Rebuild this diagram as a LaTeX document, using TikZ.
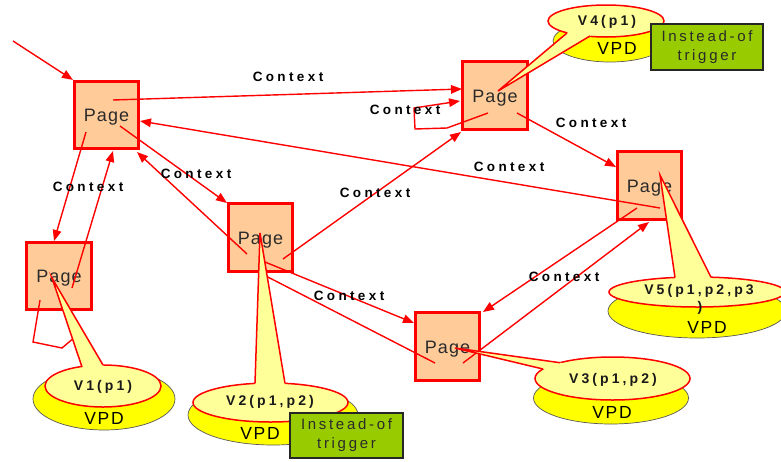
\documentclass[tikz,border=0pt]{standalone}
\usepackage{fontspec}
\setmainfont{Liberation Sans}
\newfontfamily\pagefam[LetterSpace=6]{Liberation Sans}
\newfontfamily\ctxfam[LetterSpace=25]{Liberation Sans}
\newfontfamily\viewfam[LetterSpace=22]{Liberation Sans}
\newfontfamily\vpdfam[LetterSpace=10]{Liberation Sans}
\newfontfamily\trigfam[LetterSpace=18]{Liberation Sans}
\usetikzlibrary{arrows.meta,calc,shapes.geometric}
\definecolor{pagefill}{HTML}{FFCC99}
\definecolor{bubblefill}{HTML}{FFFF99}
\definecolor{diskfill}{HTML}{FFFF00}
\definecolor{trigfill}{HTML}{99CC00}
\definecolor{linkred}{HTML}{FF0000}
\definecolor{inkgray}{HTML}{2A2A2A}
\tikzset{
  pagebox/.style={draw=linkred, line width=2.6pt, fill=pagefill, minimum width=64.5pt,
    minimum height=67.5pt, inner sep=0pt, text=inkgray, text height=15pt, text depth=2pt,
    font=\pagefam\fontsize{18}{20}\selectfont},
  ctx/.style={draw=linkred, line width=1.4pt, -{Triangle[length=11pt,width=8.5pt]}},
  ctxplain/.style={draw=linkred, line width=1.4pt},
  ctxlabel/.style={inner sep=0pt, text=black, font=\ctxfam\bfseries\fontsize{13.5}{15}\selectfont},
  disk/.style={ellipse, fill=diskfill, draw=black!65, line width=0.7pt, inner sep=0pt},
  bubble/.style={ellipse, fill=bubblefill, draw=linkred, line width=1.5pt, inner sep=0pt},
  viewtext/.style={inner sep=0pt, text=black!90, font=\viewfam\bfseries\fontsize{14}{16}\selectfont},
  bubbleside/.style={draw=linkred, line width=1.5pt, line join=miter},
  vpdtext/.style={inner sep=0pt, text=black, font=\vpdfam\fontsize{17.5}{20}\selectfont},
  trigbox/.style={draw=black!85, line width=1.3pt, fill=trigfill, inner sep=0pt,
    minimum width=112pt, minimum height=46pt, align=center, text=inkgray,
    font=\trigfam\fontsize{15}{19}\selectfont}
}
\begin{document}
\begin{tikzpicture}[x=1pt,y=-1pt]
\useasboundingbox (0,0) rectangle (781,461);
\fill[white] (0,0) rectangle (781,461);

% pages
\node[pagebox] (p1) at (106.5,115) {Page};
\node[pagebox] (p4) at (495,95.5) {Page};
\node[pagebox] (p5) at (649.5,185.5) {Page};
\node[pagebox] (p2) at (260.5,237.5) {Page};
\node[pagebox] (p0) at (59,276) {Page};
\node[pagebox] (p3) at (447.5,346.5) {Page};

% link end points
\coordinate (entry) at (13,41);
\coordinate (p1a) at (113,100);
\coordinate (p1b) at (86,132);
\coordinate (p1c) at (120,126);
\coordinate (p1in) at (140,121);
\coordinate (p1bot) at (113,151);
\coordinate (p1se) at (137,152);
\coordinate (p4a) at (488,113);
\coordinate (p4b) at (517,113);
\coordinate (p4in) at (462,89);
\coordinate (p4loop) at (460,101);
\coordinate (p4sw) at (461,132);
\coordinate (p5a) at (660,208);
\coordinate (p5b) at (637,208);
\coordinate (p5in) at (616,167);
\coordinate (p5bot) at (649,222);
\coordinate (p2a) at (247,254);
\coordinate (p2b) at (283,259);
\coordinate (p2c) at (265,262);
\coordinate (p2bot) at (262,274);
\coordinate (p2nw) at (227,203);
\coordinate (p0a) at (72,288);
\coordinate (p0b) at (40,300);
\coordinate (p0top) at (54,241);
\coordinate (p0loop) at (75,337);
\coordinate (p3a) at (435,363);
\coordinate (p3b) at (463,363);
\coordinate (p3in) at (414,323);
\coordinate (p3ne) at (483,312);

% links
\draw[ctx] (entry) -- (p1.north west);
\draw[ctx] (p1a) -- (p4in);
\draw[ctx] (p4a) -- (447,128) -- (415,129) -- (414,108) -- (p4loop);
\draw[ctx] (p4b) -- (p5in);
\draw[ctx] (p5a) -- (p1in);
\draw[ctx] (p1b) -- (p0top);
\draw[ctx] (p0a) -- (p1bot);
\draw[ctxplain] (p0b) -- (33,342) -- (62,348) -- (p0loop);
\draw[ctx] (p1c) -- (p2nw);
\draw[ctx] (p2a) -- (p1se);
\draw[ctx] (p2b) -- (p4sw);
\draw[ctx] (p2c) -- (p3in);
\draw[ctxplain] (p3a) -- (p2bot);
\draw[ctx] (p3b) -- (p5bot);
\draw[ctx] (p5b) -- (p3ne);

% link labels
\node[ctxlabel] (l1) at (288,77) {Context};
\node[ctxlabel] (l2) at (405,110) {Context};
\node[ctxlabel] (l3) at (591,123) {Context};
\node[ctxlabel] (l4) at (509,167) {Context};
\node[ctxlabel] (l5) at (88,187) {Context};
\node[ctxlabel] (l6) at (196,174) {Context};
\node[ctxlabel] (l7) at (375,193) {Context};
\node[ctxlabel] (l8) at (349,296) {Context};
\node[ctxlabel] (l9) at (564,277) {Context};

% view V4
\node[disk, minimum width=114pt, minimum height=42pt] (d4) at (610,41) {};
\node[bubble, minimum width=116pt, minimum height=32pt] (v4) at (606,21) {};
\coordinate (t4) at (498,91);
\coordinate (a4) at (567,33);
\coordinate (b4) at (590,36);
\fill[bubblefill] (t4) -- ($(t4)!1.12!(a4)$) -- ($(t4)!1.12!(b4)$) -- cycle;
\draw[bubbleside] (a4) -- (t4) -- (b4);
\node[viewtext] (v4t) at (607,22) {V4(p1)};
\node[vpdtext] (vpd4) at (617,48) {VPD};
\node[trigbox] (g4) at (707,47) {Instead-of\\trigger};

% view V5
\node[disk, minimum width=178pt, minimum height=54pt] (d5) at (697,311) {};
\node[bubble, minimum width=176pt, minimum height=30pt] (v5) at (697,292) {};
\coordinate (t5) at (660,175);
\coordinate (a5) at (675,277.5);
\coordinate (b5) at (711,277.3);
\fill[bubblefill] (t5) -- ($(t5)!1.12!(a5)$) -- ($(t5)!1.12!(b5)$) -- cycle;
\draw[bubbleside] (a5) -- (t5) -- (b5);
\node[viewtext] (v5t) at (699,291) {V5(p1,p2,p3};
\node[viewtext] (v5u) at (700,308) {)};
\node[vpdtext] (vpd5) at (707,327) {VPD};

% view V3
\node[disk, minimum width=155pt, minimum height=52pt] (d3) at (611,398) {};
\node[bubble, minimum width=155pt, minimum height=43pt] (v3) at (612.5,378.5) {};
\coordinate (t3) at (455,348);
\coordinate (a3) at (543,369);
\coordinate (b3) at (560,362.7);
\fill[bubblefill] (t3) -- ($(t3)!1.12!(a3)$) -- ($(t3)!1.12!(b3)$) -- cycle;
\draw[bubbleside] (a3) -- (t3) -- (b3);
\node[viewtext] (v3t) at (613,380) {V3(p1,p2)};
\node[vpdtext] (vpd3) at (612,412) {VPD};

% view V2
\node[disk, minimum width=170pt, minimum height=60pt] (d2) at (273,415) {};
\node[bubble, minimum width=155pt, minimum height=39pt] (v2) at (270.5,402.5) {};
\coordinate (t2) at (260,233);
\coordinate (a2) at (255,383.4);
\coordinate (b2) at (285,383.4);
\fill[bubblefill] (t2) -- ($(t2)!1.08!(a2)$) -- ($(t2)!1.08!(b2)$) -- cycle;
\draw[bubbleside] (a2) -- (t2) -- (b2);
\node[viewtext] (v2t) at (270,402) {V2(p1,p2)};
\node[vpdtext] (vpd2) at (260,433) {VPD};
\node[trigbox, minimum width=113pt, minimum height=45pt] (g2) at (346.5,435.5) {Instead-of\\trigger};

% view V1
\node[disk, minimum width=142pt, minimum height=62pt] (d1) at (104,399) {};
\node[bubble, minimum width=116pt, minimum height=42pt] (v1) at (103,386) {};
\coordinate (t1) at (52,278);
\coordinate (a1) at (82,367);
\coordinate (b1) at (103,365);
\fill[bubblefill] (t1) -- ($(t1)!1.12!(a1)$) -- ($(t1)!1.12!(b1)$) -- cycle;
\draw[bubbleside] (a1) -- (t1) -- (b1);
\node[viewtext] (v1t) at (103,387) {V1(p1)};
\node[vpdtext] (vpd1) at (104,418) {VPD};
\end{tikzpicture}
\end{document}
